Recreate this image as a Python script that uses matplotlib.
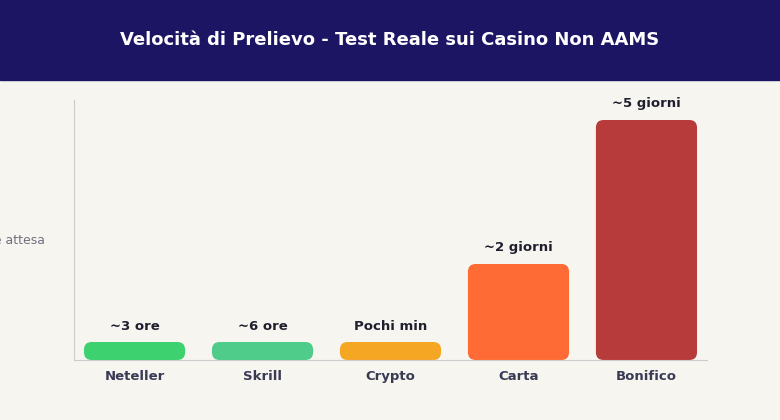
import matplotlib
matplotlib.use("Agg")
import matplotlib.pyplot as plt
from matplotlib.patches import FancyBboxPatch, Rectangle

categories = ["Neteller", "Skrill", "Crypto", "Carta", "Bonifico"]
values = [9, 9, 9, 48, 120]
labels = ["~3 ore", "~6 ore", "Pochi min", "~2 giorni", "~5 giorni"]
colors = ["#3dd170", "#4fcb8a", "#f5a623", "#ff6b35", "#b83b3b"]

W, H = 780, 420
fig = plt.figure(figsize=(W/100, H/100), dpi=100, facecolor="#f6f5f0")
fig.patches.append(Rectangle((0, 1-80/H), 1, 80/H, transform=fig.transFigure,
                             color="#1c1563", zorder=0))
fig.text(0.5, 1-40/H, "Velocità di Prelievo - Test Reale sui Casino Non AAMS",
         ha="center", va="center", color="white", fontsize=13, fontweight="bold")

ax = fig.add_axes([74/W, 1-360/H, (707-74)/W, 260/H])
ax.set_facecolor("#f6f5f0")
ax.set_xlim(-0.473, 4.473)
ax.set_ylim(0, 130)
for i, (v, lab, c) in enumerate(zip(values, labels, colors)):
    ax.add_patch(FancyBboxPatch((i-0.395, 0), 0.79, v, boxstyle="round,pad=0,rounding_size=0.06",
                                mutation_aspect=0.5*128,
                                facecolor=c, edgecolor="none"))
    ax.text(i, v+8, lab, ha="center", va="center", fontsize=9.5, fontweight="bold", color="#1f1f2e")
ax.set_xticks(range(len(categories)))
ax.set_xticklabels(categories, fontsize=9.5, fontweight="bold", color="#3a3a55")
ax.tick_params(axis="x", length=0, pad=7)
ax.set_yticks([])
for s in ["top", "right"]:
    ax.spines[s].set_visible(False)
ax.spines["left"].set_color("#cccccc")
ax.spines["bottom"].set_color("#cccccc")
fig.text(45/W, 1-240/H, "Ore attesa", ha="right", va="center", fontsize=9, color="#707080")
fig.savefig("out.png", dpi=100, facecolor=fig.get_facecolor())
